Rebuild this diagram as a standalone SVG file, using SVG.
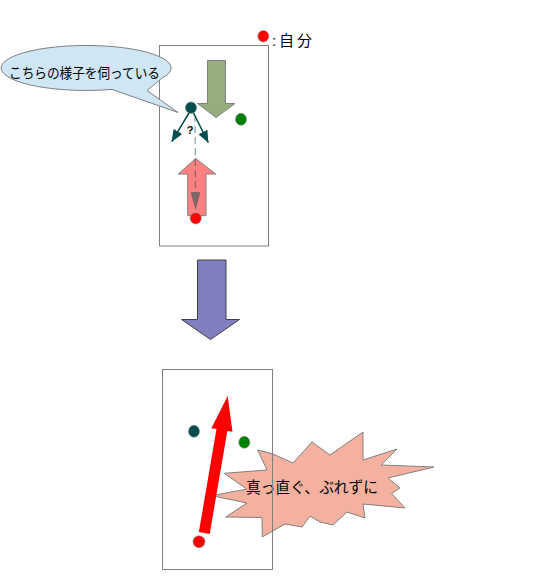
<svg xmlns="http://www.w3.org/2000/svg" width="553" height="588" viewBox="0 0 553 588">
<style>
.box{fill:none;stroke:#808080;stroke-width:1}
.dot{stroke:#8a8a8a;stroke-width:0.6}
.teal{fill:#004D4D}
.grn{fill:#008000}
.red{fill:#FF0000}
.jp{font-family:"Liberation Sans","Noto Sans CJK JP",sans-serif;fill:#000}
.shape{stroke:#808080;stroke-width:1;stroke-linejoin:miter}
</style>
<defs>
<marker id="ahTeal" viewBox="0 0 12 10" refX="12" refY="5" markerWidth="12" markerHeight="10" markerUnits="userSpaceOnUse" orient="auto">
<path d="M0,0 L12,5 L0,10 Z" fill="#004D4D"/>
</marker>
<marker id="ahFade" viewBox="0 0 18 10" refX="0" refY="5" markerWidth="18" markerHeight="10" markerUnits="userSpaceOnUse" orient="auto">
<path d="M0,0 L18,5 L0,10 Z" fill="#004D4D" fill-opacity="0.5"/>
</marker>
</defs>
<rect width="553" height="588" fill="#fff"/>

<g id="legend">
<ellipse class="dot red" cx="263.3" cy="36.2" rx="5.5" ry="5.8"/>
<text class="jp" x="272" y="45.5" font-size="15" textLength="40">:自分</text>
</g>

<g id="top-box">
<rect class="box" x="159.5" y="45.5" width="109" height="200.5"/>
</g>

<g id="speech-bubble">
<path class="shape" fill="#CFE6F4" d="M112,89.4 L178,112.5 L147,90.5 L162,78.1 A85,22.5 0 1 0 112,89.4 Z"/>
<text class="jp" x="9" y="77.8" font-size="14" textLength="151" lengthAdjust="spacingAndGlyphs">こちらの様子を伺っている</text>
</g>

<g id="green-arrow">
<polygon class="shape" fill="#98AD7D" points="207.5,60.5 225.5,60.5 225.5,103.5 235,103.5 216,117.5 197.5,103.5 207.5,103.5"/>
</g>

<g id="pink-arrow">
<polygon class="shape" fill="#FF8080" points="195.7,158.5 215.7,174 206,174 206,215.7 187.7,215.7 187.7,174 178.3,174"/>
</g>

<g id="top-dots">
<ellipse id="other-top" class="dot teal" cx="191" cy="107.7" rx="5.6" ry="5.8"/>
<ellipse id="green-top" class="dot grn" cx="241" cy="119.3" rx="5.5" ry="6"/>
<ellipse id="me-top" class="dot red" cx="195.7" cy="218.3" rx="5.6" ry="5.6"/>
</g>

<g id="connectors">
<line x1="189" y1="113" x2="171.7" y2="141.7" stroke="#004D4D" stroke-width="1.5" marker-end="url(#ahTeal)"/>
<line x1="193.5" y1="113" x2="208.3" y2="142.7" stroke="#004D4D" stroke-width="1.5" marker-end="url(#ahTeal)"/>
<line x1="195" y1="115" x2="195.5" y2="192" stroke="#004D4D" stroke-opacity="0.5" stroke-width="1.2" stroke-dasharray="7 4" marker-end="url(#ahFade)"/>
</g>

<g id="question">
<text x="190" y="134" font-family="Liberation Sans, sans-serif" font-weight="bold" font-size="11" text-anchor="middle" fill="#000">?</text>
</g>

<g id="transition-arrow">
<polygon points="197.5,260 226,260 226,319.5 239.5,319.5 210.5,339.5 181.5,319.5 197.5,319.5" fill="#8080C0" stroke="#404040" stroke-width="1"/>
</g>

<g id="burst">
<polygon class="shape" fill="#F4B19F" points="257.7,450 273,454 293,463 312,442 330,455 363,432 363,460 397,449 381,465 434,467 388,478 400,488 391.5,493.5 405,508 363,504 365,518 347,512 333,525 320,522 310,516 302,527 285,524 262.3,537 262,517.5 225.7,517 247,503 212.3,495.7 246.7,489 224.3,473.3 267,470"/>
<text class="jp" x="246" y="493" font-size="15.5" textLength="132" lengthAdjust="spacingAndGlyphs">真っ直ぐ、ぶれずに</text>
</g>

<g id="bottom-box">
<rect class="box" x="162.5" y="369.5" width="110" height="200"/>
</g>

<g id="bottom-dots">
<ellipse id="other-bottom" class="dot teal" cx="194" cy="431.3" rx="5.5" ry="6"/>
<ellipse id="green-bottom" class="dot grn" cx="244.3" cy="442.3" rx="5.5" ry="6"/>
</g>

<g id="straight-arrow">
<polygon transform="translate(204.3,533) rotate(9.7)" fill="#FF0000" points="-5.5,0 5.5,0 5.5,-104.5 10.7,-104.5 0,-139 -10.7,-104.5 -5.5,-104.5"/>
<ellipse id="me-bottom" class="dot red" cx="199" cy="541.7" rx="6" ry="6"/>
</g>
</svg>
